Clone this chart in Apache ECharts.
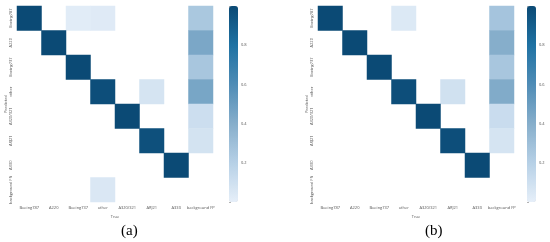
<!DOCTYPE html>
<html>
<head>
<meta charset="utf-8">
<script src="https://cdn.jsdelivr.net/npm/echarts@6/dist/echarts.min.js"></script>
<style>
  html, body { margin: 0; padding: 0; background: #fff; }
  #chart { width: 550px; height: 242px; }
</style>
</head>
<body>
<div id="chart"></div>
<script>
// 类别（True 轴 / Predicted 轴）
const trueLabels = ["Boeing787", "A220", "Boeing737", "other", "A320/321", "ARJ21", "A330", "background FP"];
const predLabels = ["Boeing787", "A220", "Boeing737", "other", "A320/321", "ARJ21", "A330", "background FN"];
const barTicks = [0.2, 0.4, 0.6, 0.8];

// [true列, predicted行, 值]，0 的格子不画
const cellsA = [
  [0, 0, 1.0], [2, 0, 0.02], [3, 0, 0.03], [7, 0, 0.25],
  [1, 1, 1.0], [7, 1, 0.44],
  [2, 2, 1.0], [7, 2, 0.26],
  [3, 3, 0.98], [5, 3, 0.07], [7, 3, 0.45],
  [4, 4, 1.0], [7, 4, 0.11],
  [5, 5, 0.97], [7, 5, 0.08],
  [6, 6, 1.0],
  [3, 7, 0.05]
];
const cellsB = [
  [0, 0, 1.0], [3, 0, 0.04], [7, 0, 0.27],
  [1, 1, 1.0], [7, 1, 0.4],
  [2, 2, 1.0], [7, 2, 0.26],
  [3, 3, 0.98], [5, 3, 0.09], [7, 3, 0.42],
  [4, 4, 1.0], [7, 4, 0.12],
  [5, 5, 0.98], [7, 5, 0.07],
  [6, 6, 1.0]
];

const blues = ["#e6eff9", "#b6d0e6", "#86aecb", "#4f8cb6", "#1f72a3", "#0b4a75"];
const small = { fontSize: 4, color: "#555", fontFamily: "Open Sans" };

const chart = echarts.init(document.getElementById("chart"));

function heatGrid(left) {
  return { left: left, top: 6, width: 196, height: 196 };
}
function barGrid(left) {
  return { left: left, top: 6, width: 9, height: 196 };
}

const option = {
  backgroundColor: "#fff",
  animation: false,
  title: [
    { text: "(a)", left: 116, top: 219, textStyle: { fontFamily: "Liberation Serif", fontSize: 15, fontWeight: "normal", color: "#000" } },
    { text: "(b)", left: 420, top: 219, textStyle: { fontFamily: "Liberation Serif", fontSize: 15, fontWeight: "normal", color: "#000" } }
  ],
  grid: [heatGrid(17), heatGrid(318), barGrid(229), barGrid(527)],
  xAxis: [0, 1].map(i => ({
    type: "category", gridIndex: i, data: trueLabels, name: "True",
    nameLocation: "middle", nameGap: 8, nameTextStyle: small,
    axisLine: { show: false }, axisTick: { show: false },
    axisLabel: Object.assign({ margin: 4, interval: 0 }, small),
    splitLine: { show: false }
  })).concat([2, 3].map(i => ({
    type: "value", gridIndex: i, show: false, min: 0, max: 1
  }))),
  yAxis: [0, 1].map(i => ({
    type: "category", gridIndex: i, data: predLabels, inverse: true, name: "Predicted",
    nameLocation: "middle", nameGap: 9, nameTextStyle: small,
    axisLine: { show: false }, axisTick: { show: false },
    axisLabel: Object.assign({ margin: 4, rotate: 90, interval: 0 }, small),
    splitLine: { show: false }
  })).concat([2, 3].map(i => ({
    type: "value", gridIndex: i, position: "right", min: 0, max: 1, interval: 0.2,
    axisLine: { show: false },
    axisTick: { show: true, length: 2, lineStyle: { color: "#666", width: 0.5 } },
    axisLabel: Object.assign({ margin: 3, formatter: v => (barTicks.includes(+v.toFixed(1)) ? v.toFixed(1) : "") }, small),
    splitLine: { show: false }
  }))),
  visualMap: [
    { type: "continuous", seriesIndex: 0, min: 0, max: 1, calculable: false, inRange: { color: blues },
      orient: "vertical", left: 224, top: 1, itemWidth: 9, itemHeight: 196, text: null, padding: 5 },
    { type: "continuous", seriesIndex: 1, min: 0, max: 1, calculable: false, inRange: { color: blues },
      orient: "vertical", left: 522, top: 1, itemWidth: 9, itemHeight: 196, text: null, padding: 5 }
  ],
  series: [
    { type: "heatmap", xAxisIndex: 0, yAxisIndex: 0, data: cellsA, itemStyle: { borderWidth: 0 } },
    { type: "heatmap", xAxisIndex: 1, yAxisIndex: 1, data: cellsB, itemStyle: { borderWidth: 0 } }
  ]
};

chart.setOption(option);
</script>
</body>
</html>
